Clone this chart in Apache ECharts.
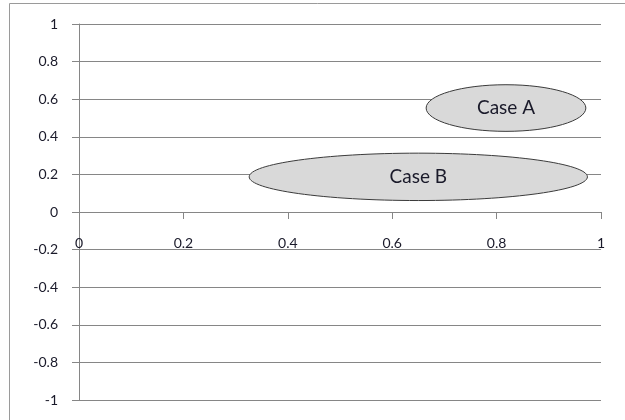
<!DOCTYPE html>
<html>
<head>
<meta charset="utf-8">
<script src="https://cdn.jsdelivr.net/npm/echarts@6/dist/echarts.min.js"></script>
<style>html,body{margin:0;padding:0;background:#fff}#c{width:625px;height:420px}</style>
</head>
<body>
<div id="c"></div>
<script>
var caseNames = ['Case A', 'Case B'];
var centerX = [0.818, 0.650];
var centerY = [0.553, 0.187];
var radiusX = [0.153, 0.324];
var radiusY = [0.124, 0.126];
var xTicks = [0, 0.2, 0.4, 0.6, 0.8, 1];
var yTicks = [-1, -0.8, -0.6, -0.4, -0.2, 0, 0.2, 0.4, 0.6, 0.8, 1];

var data = caseNames.map(function (n, i) { return [centerX[i], centerY[i], radiusX[i], radiusY[i], n]; });
var FONT = 'Lato';
var GRID = {left: 79, right: 24, top: 24, bottom: 20};
var H = 420;
var yMin = yTicks[0], yMax = yTicks[yTicks.length - 1];
var plotH = H - GRID.top - GRID.bottom;
// x axis sits at y = 0: shift it up from the grid bottom
var xOffset = -plotH * (0 - yMin) / (yMax - yMin);

var chart = echarts.init(document.getElementById('c'), null, {renderer: 'canvas'});
chart.setOption({
  animation: false,
  graphic: [{type: 'rect', shape: {x: 9.5, y: 3.5, width: 800, height: 600}, style: {fill: null, stroke: '#9a9a9a', lineWidth: 1}, silent: true, z: -10}],
  grid: {left: GRID.left, right: GRID.right, top: GRID.top, bottom: GRID.bottom, containLabel: false, outerBoundsMode: 'none'},
  xAxis: {
    type: 'value', min: xTicks[0], max: xTicks[xTicks.length - 1], interval: 0.2,
    position: 'bottom', offset: xOffset,
    axisLine: {onZero: false, lineStyle: {color: '#868686', width: 1}},
    axisTick: {show: true, length: 7, lineStyle: {color: '#868686'}},
    splitLine: {show: false},
    axisLabel: {margin: 24, color: '#1a1a2a', fontFamily: FONT, fontSize: 14,
      formatter: function (v) { return String(+v.toFixed(1)); }}
  },
  yAxis: {
    type: 'value', min: yMin, max: yMax, interval: 0.2,
    axisLine: {show: true, onZero: false, lineStyle: {color: '#868686', width: 1}},
    axisTick: {show: true, length: 7, lineStyle: {color: '#868686'}},
    splitLine: {show: true, lineStyle: {color: '#868686', width: 1}},
    axisLabel: {margin: 21, color: '#1a1a2a', fontFamily: FONT, fontSize: 14,
      formatter: function (v) { return String(+v.toFixed(1)); }}
  },
  series: [{
    type: 'custom',
    data: data,
    clip: false,
    renderItem: function (params, api) {
      var c = api.coord([api.value(0), api.value(1)]);
      var s = api.size([api.value(2), api.value(3)]);
      return {
        type: 'group',
        children: [{
          type: 'ellipse',
          shape: {cx: c[0], cy: c[1], rx: s[0], ry: s[1]},
          style: {fill: '#d9d9d9', stroke: '#3a3a3a', lineWidth: 1}
        }, {
          type: 'text',
          style: {x: c[0], y: c[1], text: caseNames[params.dataIndex], fill: '#1a1a2a',
            font: '19px ' + FONT, textAlign: 'center', textVerticalAlign: 'middle'}
        }]
      };
    }
  }]
});
</script>
</body>
</html>
